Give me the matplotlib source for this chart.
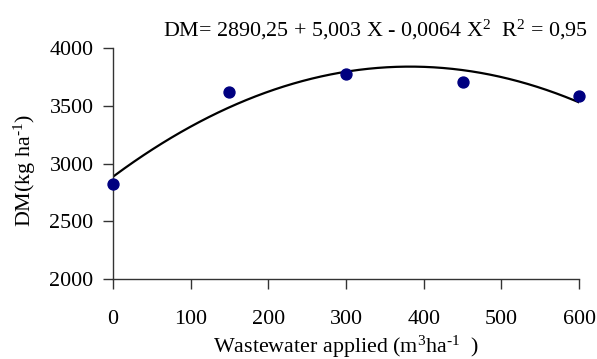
import numpy as np
import matplotlib
matplotlib.use("Agg")
import matplotlib.pyplot as plt

plt.rcParams['font.family'] = ['Liberation Serif', 'DejaVu Serif']
plt.rcParams['mathtext.fontset'] = 'custom'
plt.rcParams['mathtext.rm'] = 'Liberation Serif'
plt.rcParams['mathtext.it'] = 'Liberation Serif:italic'

# wastewater applied (m3/ha) and dry matter (kg/ha)
wastewater = [0, 150, 300, 450, 600]
dm = [2821, 3621, 3774, 3702, 3586]
x_ticks = [0, 100, 200, 300, 400, 500, 600]
y_ticks = [2000, 2500, 3000, 3500, 4000]
equation = "DM= 2890,25 + 5,003 X - 0,0064 X$^2$  R$^2$ = 0,95"

fig = plt.figure(figsize=(5.97, 3.59), dpi=100)
ax = fig.add_axes([0.189, 0.2228, 0.781, 0.6435])

# quadratic trendline fitted to the points
coef = np.polyfit(wastewater, dm, 2)
xs = np.linspace(0, 600, 200)
ax.plot(xs, np.polyval(coef, xs), color='black', lw=1.6, zorder=2)
ax.scatter(wastewater, dm, s=62, color='#000080', zorder=3, clip_on=False)

fs = 15.8
ax.set_xlim(0, 600)
ax.set_ylim(2000, 4000)
ax.set_xticks(x_ticks)
ax.set_yticks(y_ticks)
ax.tick_params(axis='both', labelsize=fs, length=7, width=1, color='#333333', direction='out')
ax.tick_params(axis='x', pad=15)
ax.tick_params(axis='y', pad=7)
for s in ['top', 'right']:
    ax.spines[s].set_visible(False)
for s in ['left', 'bottom']:
    ax.spines[s].set_color('#333333')
    ax.spines[s].set_linewidth(1)

ax.set_ylabel(r"DM(kg ha$^{\text{-1}}$)", fontsize=fs)
ax.yaxis.set_label_coords(-0.16, 0.47)
ax.set_xlabel(r"Wastewater applied (m$^3$ha$^{\text{-1}}$  )", fontsize=fs)
ax.xaxis.set_label_coords(0.5, -0.238)

fig.text(0.628, 0.9, equation, ha='center', va='baseline', fontsize=fs)

fig.savefig("out.png", dpi=100)
